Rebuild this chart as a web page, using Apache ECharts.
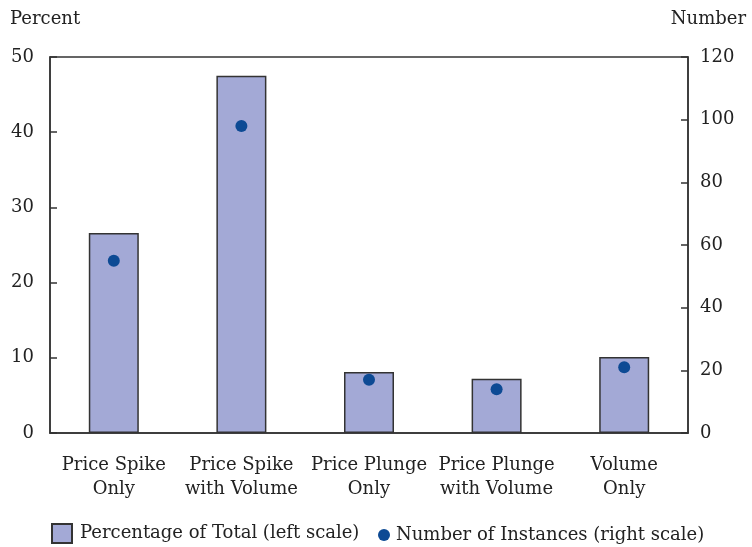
<!DOCTYPE html>
<html><head><meta charset="utf-8">
<script src="https://cdn.jsdelivr.net/npm/echarts@6/dist/echarts.min.js"></script>
<style>html,body{margin:0;padding:0;background:#fff}#c{width:752px;height:547px}</style>
</head><body><div id="c"></div>
<script>
const categories = ["Price Spike\nOnly", "Price Spike\nwith Volume", "Price Plunge\nOnly", "Price Plunge\nwith Volume", "Volume\nOnly"];
const percentValues = [26.6, 47.5, 8.1, 7.2, 10.1];
const instanceValues = [55, 98, 17, 14, 21];
const barName = "Percentage of Total (left scale)";
const dotName = "Number of Instances (right scale)";

const FONT = "DejaVu Serif";
const FS = 18;
const TXT = "#222";
const chart = echarts.init(document.getElementById('c'), null, {renderer:'canvas'});
chart.setOption({
  animation: false,
  textStyle: {fontFamily: FONT},
  grid: {left: 50, right: 64, top: 57, bottom: 114, show: true, borderColor: '#333', borderWidth: 1.5, backgroundColor: 'transparent'},
  graphic: [
    {type:'text', left: 10, top: 10, style:{text:'Percent', font:FS+'px "DejaVu Serif"', fill:TXT}},
    {type:'text', right: 6, top: 10, style:{text:'Number', font:FS+'px "DejaVu Serif"', fill:TXT}}
  ],
  legend: [
    {data:[{name:barName, icon:'rect'}], left: 46, top: 518, itemWidth: 20, itemHeight: 19, textStyle:{fontFamily:FONT, fontSize:FS, color:TXT, padding:[0,0,0,3]}},
    {data:[{name:dotName, icon:'circle'}], left: 373, top: 521, itemWidth: 12, itemHeight: 12, textStyle:{fontFamily:FONT, fontSize:FS, color:TXT, padding:[0,0,0,1]}}
  ],
  xAxis: {
    type: 'category', data: categories,
    axisLine: {lineStyle:{color:'#333', width:1.5}},
    axisTick: {show:false},
    axisLabel: {fontFamily:FONT, fontSize:FS, color:TXT, lineHeight:24, margin:20, interval:0}
  },
  yAxis: [
    {type:'value', min:0, max:50, interval:10, position:'left',
     axisLine:{show:true, lineStyle:{color:'#333', width:1.5}},
     axisTick:{show:true, inside:true, length:7, lineStyle:{color:'#333', width:1.5}},
     splitLine:{show:false},
     axisLabel:{fontFamily:FONT, fontSize:FS, color:TXT, margin:16}},
    {type:'value', min:0, max:120, interval:20, position:'right',
     axisLine:{show:true, lineStyle:{color:'#333', width:1.5}},
     axisTick:{show:true, inside:true, length:7, lineStyle:{color:'#333', width:1.5}},
     splitLine:{show:false},
     axisLabel:{fontFamily:FONT, fontSize:FS, color:TXT, margin:12}}
  ],
  series: [
    {name: barName, type:'bar', data: percentValues, barWidth: 50, yAxisIndex: 0,
     itemStyle:{color:'#a3a9d6', borderColor:'#333', borderWidth:1.5}},
    {name: dotName, type:'scatter', data: instanceValues, yAxisIndex: 1, symbolSize: 12,
     itemStyle:{color:'#0d4a94', opacity:1}, z: 5}
  ]
});
</script></body></html>
